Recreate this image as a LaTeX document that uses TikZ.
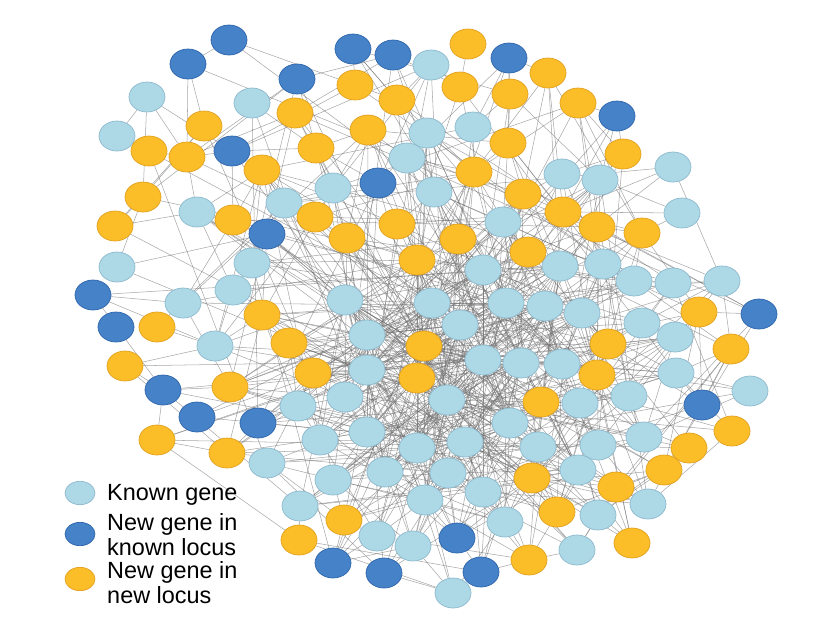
\documentclass[tikz,border=0pt]{standalone}
\usepackage{fontspec}
\setmainfont{Liberation Sans}
\usetikzlibrary{shapes.geometric, backgrounds}
\definecolor{fillk}{RGB}{173,216,230}
\definecolor{linek}{RGB}{140,185,205}
\definecolor{filln}{RGB}{70,130,200}
\definecolor{linen}{RGB}{45,100,170}
\definecolor{filly}{RGB}{252,190,40}
\definecolor{liney}{RGB}{225,160,30}
\definecolor{linkgray}{RGB}{110,110,110}

% gene positions (px, y downwards) and class: k known, n new in known locus, y new locus
\newcommand{\genelist}{%
147/97/k, 252/103/k, 117/136/k, 197/212/k, 284/203/k, 333/188/k, 431/65/k, 427/133/k,
473/127/k, 407/158/k, 434/192/k, 562/174/k, 600/180/k, 673/167/k, 682/213/k, 503/222/k,
117/267/k, 252/263/k, 233/290/k, 183/303/k, 215/346/k, 483/270/k, 560/266/k, 603/264/k,
634/281/k, 673/283/k, 722/281/k, 345/300/k, 432/303/k, 506/303/k, 545/306/k, 582/313/k,
642/323/k, 675/337/k, 460/325/k, 367/335/k, 483/360/k, 521/363/k, 562/364/k, 676/373/k,
750/391/k, 367/370/k, 345/397/k, 447/400/k, 580/403/k, 629/396/k, 298/406/k, 320/440/k,
367/432/k, 417/448/k, 465/442/k, 510/423/k, 538/447/k, 598/445/k, 644/437/k, 267/463/k,
385/472/k, 448/473/k, 578/470/k, 333/480/k, 483/492/k, 425/500/k, 505/522/k, 598/515/k,
648/504/k, 300/506/k, 377/536/k, 413/546/k, 577/550/k, 453/593/k,
229/40/n, 188/64/n, 297/79/n, 232/151/n, 353/49/n, 393/55/n, 509/58/n, 378/183/n,
617/116/n, 267/234/n, 93/295/n, 116/327/n, 163/390/n, 197/417/n, 258/423/n, 759/314/n,
702/405/n, 457/538/n, 333/563/n, 384/573/n, 481/572/n,
468/44/y, 548/73/y, 578/103/y, 355/85/y, 397/100/y, 460/87/y, 510/94/y, 295/113/y,
204/126/y, 368/130/y, 508/143/y, 149/151/y, 187/157/y, 316/148/y, 262/170/y, 474/172/y,
623/154/y, 143/197/y, 233/220/y, 115/226/y, 315/217/y, 523/194/y, 563/212/y, 597/227/y,
642/233/y, 347/238/y, 397/224/y, 458/239/y, 528/252/y, 417/260/y, 262/315/y, 157/327/y,
289/343/y, 125/366/y, 313/373/y, 230/387/y, 157/440/y, 227/453/y, 424/346/y, 417/378/y,
608/344/y, 597/375/y, 699/312/y, 731/349/y, 541/402/y, 732/431/y, 689/448/y, 664/470/y,
532/478/y, 616/487/y, 557/512/y, 344/520/y, 299/540/y, 529/560/y, 632/543/y}

\begin{document}
\begin{tikzpicture}[
    x=0.03cm, y=-0.03cm,
    gene/.style={ellipse, minimum width=1.08cm, minimum height=0.9cm,
                 inner sep=0pt, line width=0.6pt},
    keygene/.style={ellipse, minimum width=0.9cm, minimum height=0.7cm,
                    inner sep=0pt, line width=0.6pt},
    link/.style={draw=linkgray, line width=0.45pt, opacity=0.6},
    keytext/.style={anchor=west, align=left, inner sep=0pt,
                    font=\fontsize{20}{21.5}\selectfont}
]
\useasboundingbox (0,0) rectangle (840,635);
%% genes
\foreach \gx/\gy/\gc [count=\i] in \genelist
    \node[gene, fill=fill\gc, draw=line\gc] (g\i) at (\gx,\gy) {};
%% interactions, behind the genes: near pairs and central pairs are linked more often
\pgfmathsetseed{7}
\begin{pgfonlayer}{background}
\foreach \ax/\ay/\ac [count=\i] in \genelist {
  \foreach \bx/\by/\bc [count=\j] in \genelist {
    \ifnum\j>\i\relax
      \pgfmathsetmacro\plink{0.9*exp(-min(veclen(\bx-\ax,\by-\ay)/50,12))
        +1.5*exp(-min((veclen(\ax-455,\ay-365)+veclen(\bx-455,\by-365))/105,12))}
      \pgfmathsetmacro\roll{rnd}
      \ifdim\roll pt<\plink pt\relax \draw[link] (g\i) -- (g\j);\fi
    \fi
  }
}
\end{pgfonlayer}
%% legend
\node[keygene, fill=fillk, draw=linek] (keyk) at (80,493) {};
\node[keygene, fill=filln, draw=linen] (keyn) at (80,534) {};
\node[keygene, fill=filly, draw=liney] (keyy) at (80,579) {};
\node[keytext] (keyktext) at (107,495) {Known gene};
\node[keytext] (keyntext) at (107,535) {New gene in\\known locus};
\node[keytext] (keyytext) at (107,583) {New gene in\\new locus};
\end{tikzpicture}
\end{document}
